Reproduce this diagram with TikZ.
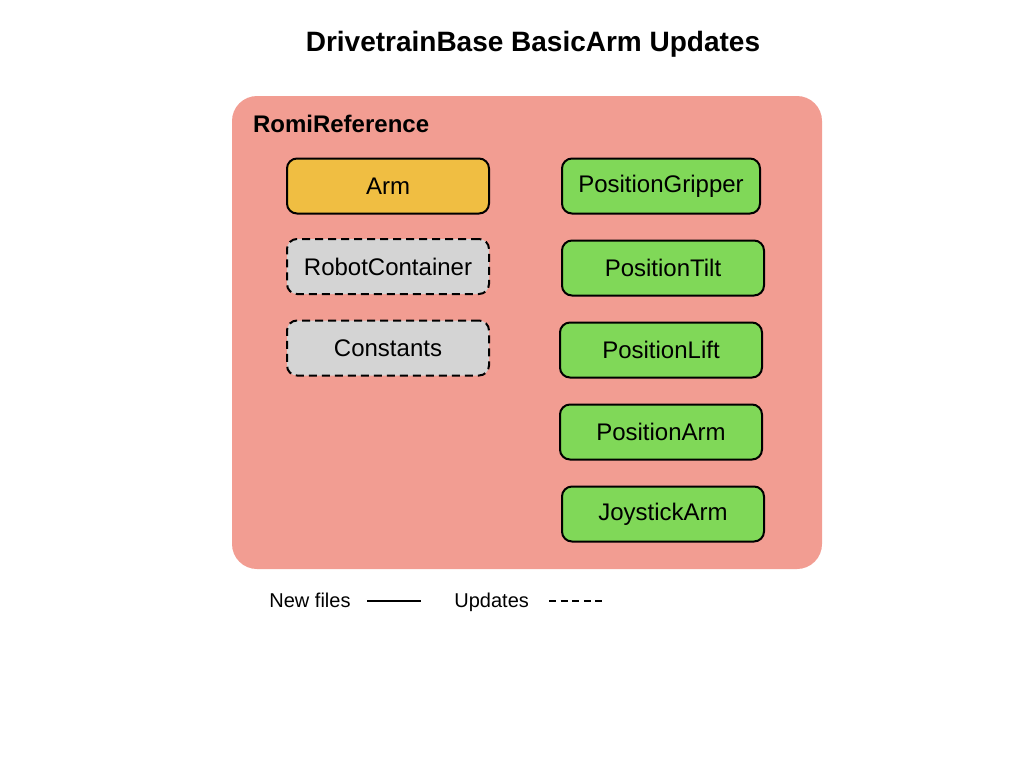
\documentclass[tikz,border=0pt]{standalone}
\usepackage{fontspec}
\setmainfont{Liberation Sans}
\usepackage{tikz}
\usetikzlibrary{positioning}

\definecolor{romired}{RGB}{242,157,146}
\definecolor{armyellow}{RGB}{240,190,66}
\definecolor{updgray}{RGB}{212,212,212}
\definecolor{cmdgreen}{RGB}{128,216,88}

\begin{document}
\begin{tikzpicture}[
    x=0.5pt, y=-0.5pt,
    newfile/.style={rectangle, rounded corners=5pt, draw, line width=1pt, minimum width=101pt, minimum height=27.5pt, text centered, font=\fontsize{12}{14}\selectfont},
    subsystem/.style={newfile, fill=armyellow},
    command/.style={newfile, fill=cmdgreen},
    update/.style={newfile, fill=updgray, dash pattern=on 4pt off 2.5pt},
    legend/.style={anchor=base west, font=\fontsize{10}{12}\selectfont, inner sep=0pt},
    sample/.style={line width=1.4pt}
]
\useasboundingbox (0,0) rectangle (1024,768);
\node[font=\bfseries\fontsize{14}{17}\selectfont] (title) at (533,44) {DrivetrainBase BasicArm Updates};
\fill[romired, rounded corners=12.5pt] (232,96) rectangle (822,569);
\node[anchor=west, font=\bfseries\fontsize{12}{14}\selectfont] (project) at (246,124) {RomiReference};
\node[subsystem] (arm) at (388,186) {Arm};
\node[update] (container) at (388,266.5) {RobotContainer};
\node[update] (constants) at (388,348) {Constants};
\node[command, minimum width=99pt] (gripper) at (661,186) {PositionGripper};
\node[command] (tilt) at (663,268) {PositionTilt};
\node[command] (lift) at (661,350) {PositionLift};
\node[command] (posarm) at (661,432) {PositionArm};
\node[command] (joystick) at (663,514) {JoystickArm};
% legend
\node[legend] (newlbl) at (269,607) {New files};
\node[legend] (updlbl) at (454,607) {Updates};
\coordinate (newstart) at (367,601);
\coordinate (newend) at (421,601);
\coordinate (updstart) at (549,601);
\coordinate (updend) at (605,601);
\draw[sample] (newstart) -- (newend);
\draw[sample, dash pattern=on 3.5pt off 2.3pt] (updstart) -- (updend);
\end{tikzpicture}
\end{document}
